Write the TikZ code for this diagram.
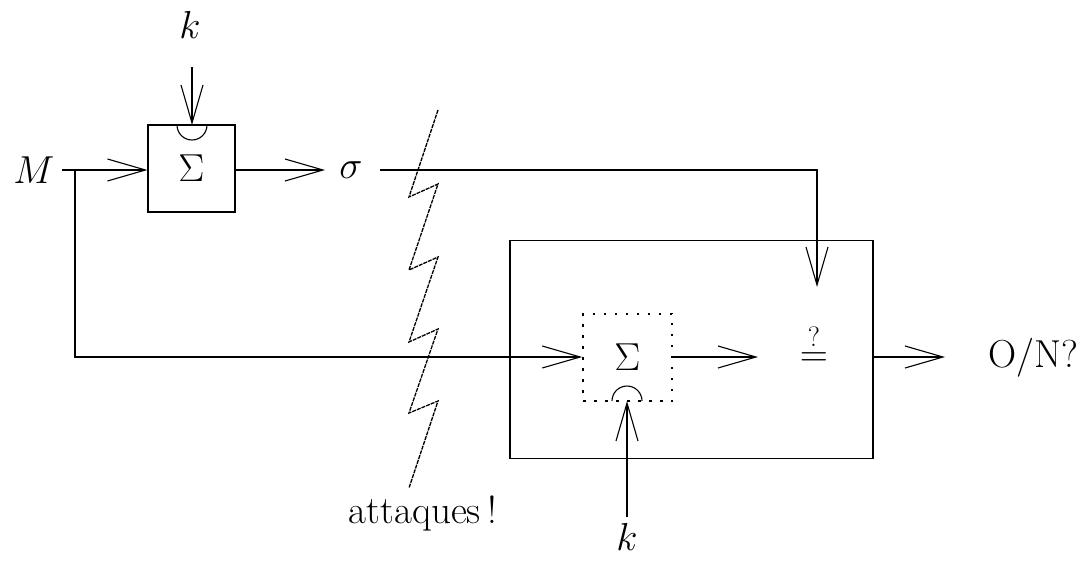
\RequirePackage{fix-cm}
\documentclass[tikz,border=0pt]{standalone}
\usetikzlibrary{arrows.meta}
\begin{document}
\begin{tikzpicture}[x=1pt,y=-1pt,
  txt/.style={font=\fontsize{39}{47}\selectfont, inner sep=0pt},
  line/.style={line width=1.1pt},
  arr/.style={line, -{Straight Barb[length=38pt,width=22pt,line width=1.1pt]}},
  boxa/.style={draw, line width=1.1pt, minimum width=87pt, minimum height=87pt, inner sep=0pt, font=\fontsize{39}{47}\selectfont},
  boxd/.style={draw, line width=1.6pt, dash pattern=on 2.5pt off 8.5pt, minimum width=89pt, minimum height=87pt, inner sep=0pt, font=\fontsize{39}{47}\selectfont},
  bigbox/.style={draw, line width=1.3pt, minimum width=363pt, minimum height=218pt, inner sep=0pt}
]
\useasboundingbox (0,0) rectangle (1090,562);

% nodes
\node[txt, anchor=base] (M) at (34,183) {$M$};
\node[boxa] (s1) at (191.5,168.5) {$\Sigma$};
\node[txt, anchor=base] (k1) at (190,38) {$k$};
\node[txt] (sigma) at (351,170) {$\sigma$};
\node[bigbox] (big) at (691.5,349.5) {};
\node[boxd] (s2) at (627.5,357.5) {$\Sigma$};
\node[txt] (eq) at (814,360) {$=$};
\node[inner sep=0pt, font=\fontsize{28}{34}\selectfont, anchor=base] (q) at (814,346) {?};
\node[txt, anchor=base] (k2) at (627,550) {$k$};
\node[txt, anchor=base] (out) at (1033,367) {O/N?};
\node[txt, anchor=base] (att) at (423,523) {attaques\,!};

% coordinates
\coordinate (Mstart) at (62,170);
\coordinate (split) at (75,170);
\coordinate (splitdown) at (75,357);
\coordinate (k1start) at (192,67);
\coordinate (k1tip) at (192,125);
\coordinate (sigstart) at (380,170);
\coordinate (corner) at (817,170);
\coordinate (sigtip) at (817,287);
\coordinate (eqin) at (758,357);
\coordinate (outtip) at (945,357);
\coordinate (k2start) at (627,517);
\coordinate (k2tip) at (627,401);
\coordinate (s1out) at (235,170);
\coordinate (sigin) at (325,170);

% top-left block
\draw[arr] (Mstart) -- (s1.west |- Mstart);
\draw[arr] (k1start) -- (k1tip);
\draw[line] (177,125) arc[start angle=180, end angle=360, radius=15pt];
\draw[arr] (s1out) -- (sigin);

% sigma to verifier
\draw[arr] (sigstart) -- (corner) -- (sigtip);

% M branch
\draw[arr] (split) -- (splitdown) -- (s2.west |- splitdown);

% inside verifier
\draw[arr] (s2.east |- eqin) -- (eqin);
\draw[line] (612,401) arc[start angle=180, end angle=0, radius=15pt];
\draw[arr] (k2start) -- (k2tip);
\draw[arr] (big.east |- outtip) -- (outtip);

% attack zigzag
\draw[line width=1.3pt, dash pattern=on 4pt off 1pt]
  (438,110) -- (409,197) -- (438,184) -- (409,270) -- (438,257)
  -- (409,342) -- (438,329) -- (409,413) -- (438,401) -- (409,488);
\end{tikzpicture}
\end{document}
